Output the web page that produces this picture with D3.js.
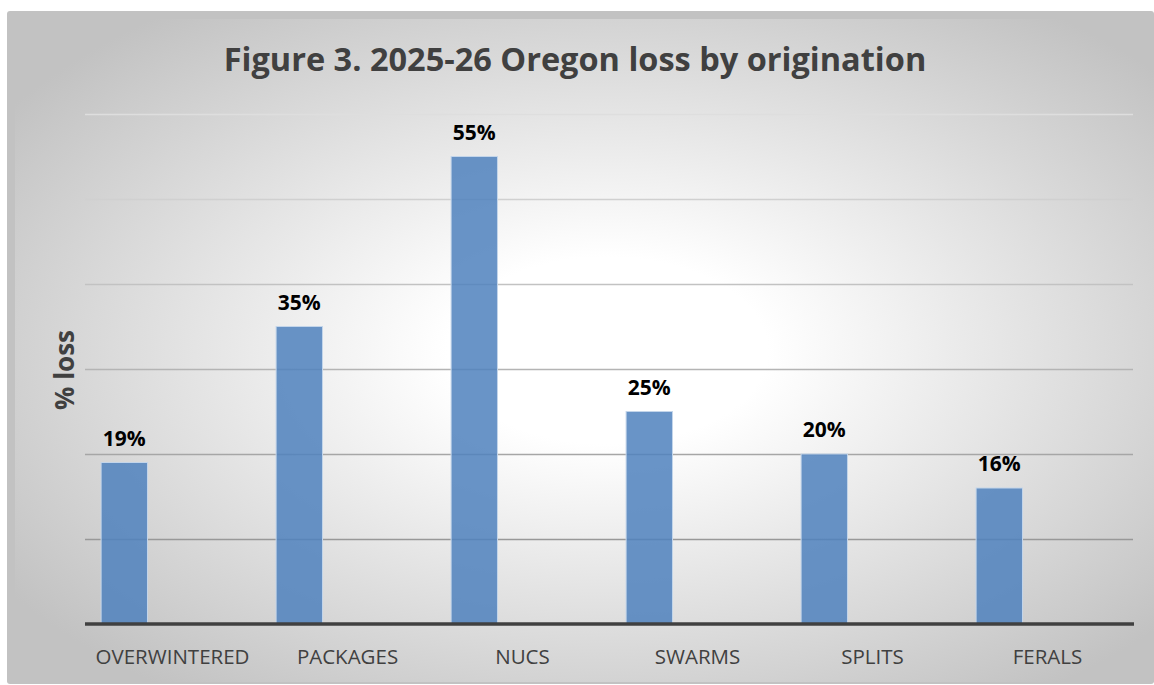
<!DOCTYPE html>
<html>
<head>
<meta charset="utf-8">
<script src="https://cdn.jsdelivr.net/npm/d3@7.9.0/dist/d3.min.js"></script>
<style>
  body { margin: 0; background: #fff; }
  svg { display: block; }
</style>
</head>
<body>
<svg id="chart" width="1154" height="685"></svg>
<script>
const categories = ['OVERWINTERED', 'PACKAGES', 'NUCS', 'SWARMS', 'SPLITS', 'FERALS'];
const lossPct = [19, 35, 55, 25, 20, 16];
const gridTicks = [10, 20, 30, 40, 50, 60];

const svg = d3.select('#chart');
const W = 1154, H = 685;
const margin = { top: 115, right: 20, bottom: 61, left: 85 };

// background card with radial shading
const defs = svg.append('defs');
const rg = defs.append('radialGradient')
  .attr('id', 'bg')
  .attr('cx', '52%').attr('cy', '50%').attr('r', '64%');
rg.append('stop').attr('offset', '0%').attr('stop-color', '#ffffff');
rg.append('stop').attr('offset', '22%').attr('stop-color', '#ffffff');
rg.append('stop').attr('offset', '100%').attr('stop-color', '#c2c2c2');

svg.append('rect')
  .attr('x', 7).attr('y', 11)
  .attr('width', W - 7).attr('height', 673)
  .attr('rx', 3)
  .attr('fill', '#c2c2c2');
svg.append('rect')
  .attr('x', 15).attr('y', 19)
  .attr('width', W - 15).attr('height', 663)
  .attr('fill', 'url(#bg)');

const x = d3.scaleBand()
  .domain(categories)
  .range([margin.left, 1135]);

const y = d3.scaleLinear()
  .domain([0, 60])
  .range([624, 114]);

// gridlines, lighter toward the top
const gridColor = d3.scaleLinear().domain([0, 60]).range(['#8a8a8a', '#dedede']);
svg.append('g')
  .selectAll('line')
  .data(gridTicks)
  .join('line')
  .attr('x1', margin.left).attr('x2', 1133)
  .attr('y1', d => Math.round(y(d)) + 0.5)
  .attr('y2', d => Math.round(y(d)) + 0.5)
  .attr('stroke', d => gridColor(d))
  .attr('stroke-width', 1.5);

// bars
svg.append('g')
  .selectAll('rect')
  .data(lossPct)
  .join('rect')
  .attr('x', (d, i) => x(categories[i]) + x.bandwidth() * 0.092)
  .attr('width', x.bandwidth() * 0.265)
  .attr('y', d => y(d))
  .attr('height', d => y(0) - y(d))
  .attr('fill', '#4f81bd')
  .attr('fill-opacity', 0.85)
  .attr('stroke', '#c3d5ea')
  .attr('stroke-width', 1);

// value labels
svg.append('g')
  .selectAll('text')
  .data(lossPct)
  .join('text')
  .attr('x', (d, i) => x(categories[i]) + x.bandwidth() * 0.2245)
  .attr('y', d => y(d) - 17)
  .attr('text-anchor', 'middle')
  .attr('font-family', 'Open Sans, sans-serif')
  .attr('font-weight', 700)
  .attr('font-size', 21)
  .attr('fill', '#000')
  .text(d => d + '%');

// x axis baseline and labels
const xAxis = d3.axisBottom(x).tickSize(0).tickPadding(25);
const gx = svg.append('g')
  .attr('transform', `translate(0,${y(0)})`)
  .call(xAxis);
gx.select('.domain')
  .attr('stroke', '#404040')
  .attr('stroke-width', 3.5)
  .attr('d', `M${margin.left},0H1134`);
gx.selectAll('text')
  .attr('font-family', 'Open Sans, sans-serif')
  .attr('font-size', 20.5)
  .attr('fill', '#404040');

// title
svg.append('text')
  .attr('x', 575)
  .attr('y', 71)
  .attr('text-anchor', 'middle')
  .attr('font-family', 'Open Sans, sans-serif')
  .attr('font-weight', 700)
  .attr('font-size', 32.5)
  .attr('fill', '#404040')
  .text('Figure 3. 2025-26 Oregon loss by origination');

// y axis title
svg.append('text')
  .attr('transform', 'translate(74,370) rotate(-90)')
  .attr('text-anchor', 'middle')
  .attr('font-family', 'Open Sans, sans-serif')
  .attr('font-weight', 700)
  .attr('font-size', 26)
  .attr('fill', '#404040')
  .text('% loss');
</script>
</body>
</html>
